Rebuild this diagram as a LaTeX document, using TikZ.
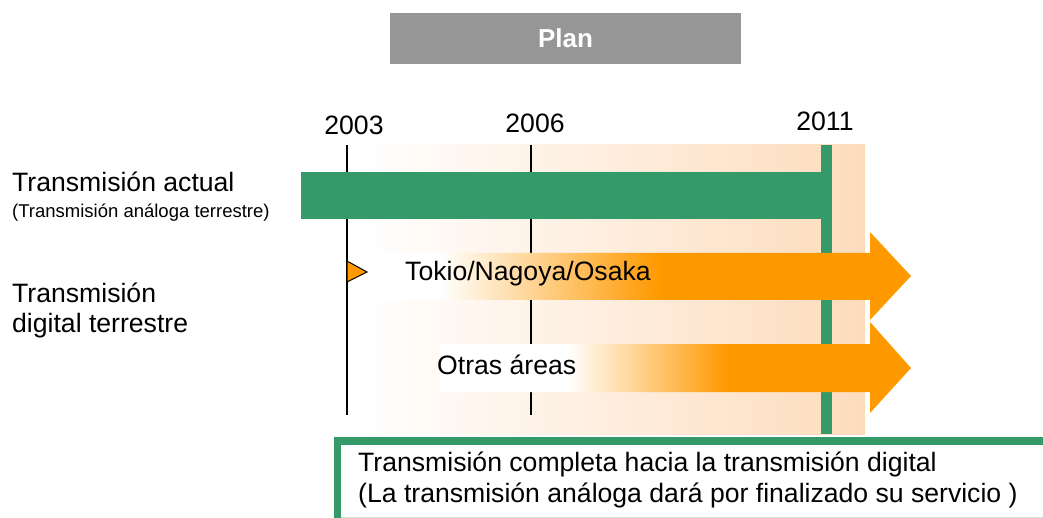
\documentclass[tikz,border=0pt]{standalone}
\usepackage{fontspec}
\setmainfont{Liberation Sans}
\definecolor{plangray}{RGB}{150,150,150}
\definecolor{bandgreen}{RGB}{52,154,105}
\definecolor{arroworange}{RGB}{255,153,0}
\definecolor{peach}{RGB}{253,220,188}
\definecolor{rulegreen}{RGB}{200,226,212}
\pgfdeclarehorizontalshading{tokiofade}{100bp}{color(0bp)=(white); color(35.7bp)=(white); color(54bp)=(arroworange); color(100bp)=(arroworange)}
\pgfdeclarehorizontalshading{otrasfade}{100bp}{color(0bp)=(white); color(38.5bp)=(white); color(55.5bp)=(arroworange); color(100bp)=(arroworange)}

\begin{document}
\begin{tikzpicture}[
    x=1pt, y=-1pt,
    big/.style={font=\fontsize{26.6}{31}\selectfont, inner sep=0pt},
    small/.style={font=\fontsize{18.5}{22}\selectfont, inner sep=0pt},
    yearline/.style={line width=1.4pt},
    stage/.style={line width=0pt, draw=none},
]
\useasboundingbox (0,0) rectangle (1043,518);

% Title
\node[fill=plangray, minimum width=351pt, minimum height=51pt, inner sep=0pt,
      font=\bfseries\fontsize{26}{31}\selectfont, text=white] (plan) at (565.5,38.5) {Plan};

% Background band, fading in towards 2011
\shade[left color=white, right color=peach] (360,145) rectangle (865,434);

% Year marks
\coordinate (t2003) at (347,145);  \coordinate (b2003) at (347,415);
\coordinate (t2006) at (531,145);  \coordinate (b2006) at (531,415);
\node[big, anchor=base] (y2003) at (354,135) {2003};
\node[big, anchor=base] (y2006) at (535,133) {2006};
\node[big, anchor=base] (y2011) at (825,131) {2011};
\draw[yearline] (t2006) -- (b2006);
\fill[bandgreen] (821,145) rectangle (831.5,434);

% Digital roll-out arrows
\shade[stage, shading=tokiofade] (312,253) -- (870,253) -- (870,232) -- (911,276)
      -- (870,320) -- (870,300) -- (312,300) -- cycle;
\shade[stage, shading=otrasfade] (440,344) -- (870,344) -- (870,322) -- (911,368)
      -- (870,413) -- (870,392) -- (440,392) -- cycle;
\draw[yearline] (t2003) -- (b2003);

% Current analog transmission
\fill[bandgreen] (301,172) rectangle (831.5,219);

% Start marker 2003
\draw[fill=arroworange, line width=1pt, line join=miter] (347,261) -- (367,272) -- (347,282) -- cycle;

% Row labels
\node[big, anchor=base west]   (actual)  at (12,192) {Transmisión actual};
\node[small, anchor=base west] (analog)  at (12,218) {(Transmisión análoga terrestre)};
\node[big, anchor=base west]   (digita)  at (12,302) {Transmisión};
\node[big, anchor=base west]   (digitb)  at ([yshift=-30pt]digita.base west) {digital terrestre};
\node[big, anchor=base west]   (tokio)   at (405,281) {Tokio/Nagoya/Osaka};
\node[big, anchor=base west]   (otras)   at (437,374) {Otras áreas};

% Switch-over box
\draw[bandgreen, line width=7.5pt, line join=miter] (337.5,518) -- (337.5,441) -- (1043,441);
\draw[rulegreen, line width=1pt] (341,517) -- (1043,517);
\node[big, anchor=base west] (fina) at (358,471) {Transmisión completa hacia la transmisión digital};
\node[big, anchor=base west] (finb) at (358,502) {(La transmisión análoga dará por finalizado su servicio )};

\end{tikzpicture}
\end{document}
